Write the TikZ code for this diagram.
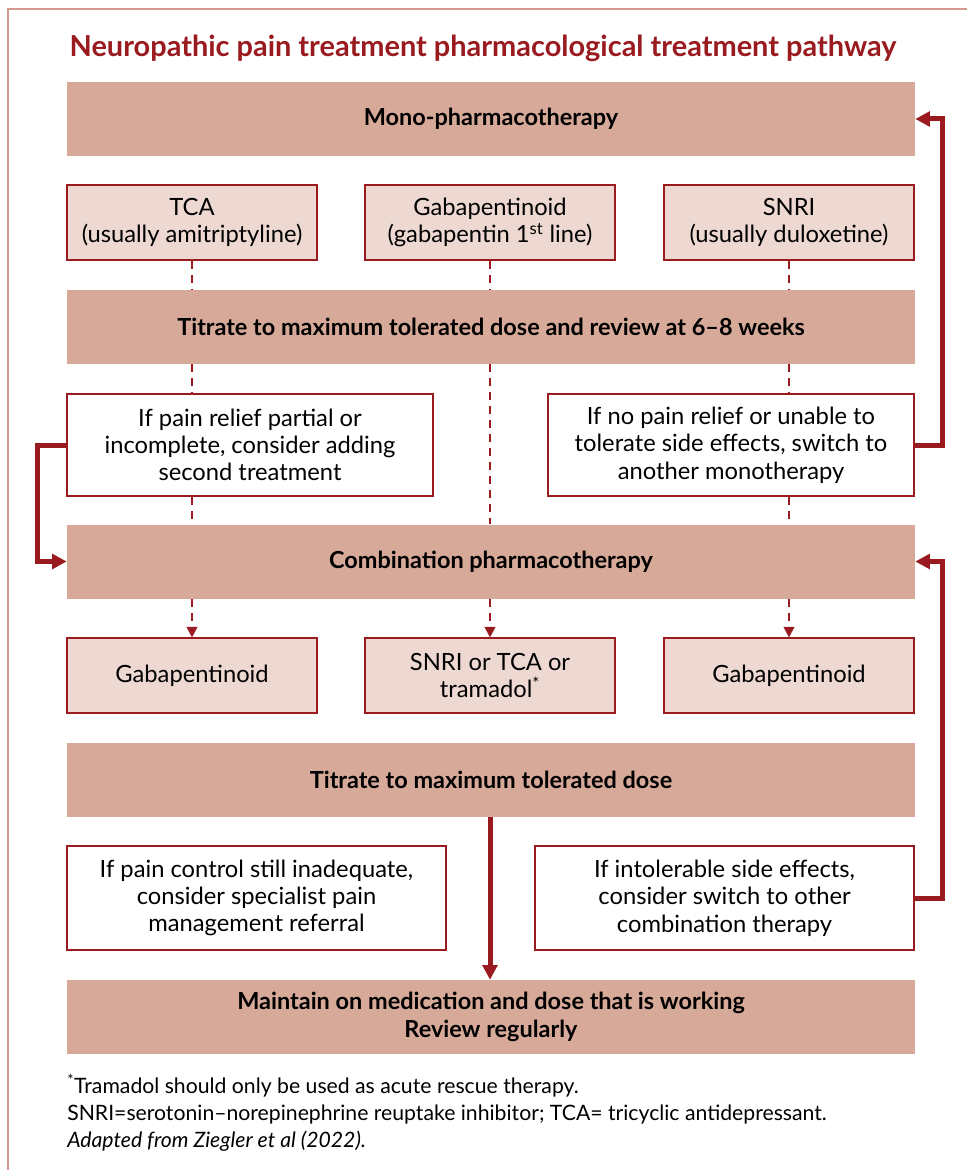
\documentclass[tikz,border=0pt]{standalone}
\usepackage{fontspec}
\setmainfont{Lato}
\usetikzlibrary{arrows.meta}
\definecolor{darkred}{HTML}{9A1B1F}
\definecolor{barfill}{HTML}{D7A999}
\definecolor{drugfill}{HTML}{EED9D2}
\definecolor{framecol}{HTML}{D49A8D}
\tikzset{
  bar/.style={fill=barfill,minimum width=636pt,minimum height=55.5pt,inner sep=0pt,
    align=center,font=\fontsize{17.6}{21.5}\selectfont\bfseries},
  drug/.style={fill=drugfill,draw=darkred,line width=0.8pt,minimum width=187.5pt,
    minimum height=56.25pt,inner sep=0pt,align=center,font=\fontsize{17.8}{20.5}\selectfont},
  note/.style={fill=white,draw=darkred,line width=0.8pt,inner sep=0pt,align=center,
    font=\fontsize{17.8}{20.5}\selectfont},
  dashline/.style={darkred,line width=1.5pt,dash pattern=on 6pt off 4.5pt},
  dasharrow/.style={dashline,-{Triangle[length=8pt,width=8pt]}},
  bigarrow/.style={darkred,line width=3.75pt,-{Triangle[length=11pt,width=11pt]}}
}
\begin{document}
\begin{tikzpicture}[x=0.75pt,y=-0.75pt]
\useasboundingbox (0,0) rectangle (967,1170);
\draw[framecol,line width=1.5pt] (8,1170) -- (8,9) -- (967,9);
\node[darkred,font=\fontsize{21.7}{25}\selectfont\bfseries] (title) at (483,48) {Neuropathic pain treatment pharmacological treatment pathway};
\node[bar] (mono) at (491,119) {Mono-pharmacotherapy};
\node[drug] (tca) at (192,222.5) {TCA\\(usually amitriptyline)};
\node[drug] (gaba) at (490,222.5) {Gabapentinoid\\(gabapentin 1\textsuperscript{st} line)};
\node[drug] (snri) at (789,222.5) {SNRI\\(usually duloxetine)};
\node[bar] (titrate) at (491,326.5) {Titrate to maximum tolerated dose and review at 6–8 weeks};
\node[note,minimum width=274.5pt,minimum height=76.5pt] (partial) at (250,445) {If pain relief partial or\\incomplete, consider adding\\second treatment};
\node[note,minimum width=274.5pt,minimum height=76.5pt] (noswitch) at (731,445) {If no pain relief or unable to\\tolerate side effects, switch to\\another monotherapy};
\node[bar] (combo) at (491,561.5) {Combination pharmacotherapy};
\node[drug] (gabaleft) at (192,675.5) {Gabapentinoid};
\node[drug] (snritca) at (490,675.5) {SNRI or TCA or\\tramadol\textsuperscript{*}};
\node[drug] (gabaright) at (789,675.5) {Gabapentinoid};
\node[bar] (titratemax) at (491,780) {Titrate to maximum tolerated dose};
\node[note,minimum width=284.25pt,minimum height=78pt] (specialist) at (256.5,898) {If pain control still inadequate,\\consider specialist pain\\management referral};
\node[note,minimum width=284.25pt,minimum height=78pt] (intolerable) at (724.5,898) {If intolerable side effects,\\consider switch to other\\combination therapy};
\node[bar] (maintain) at (491,1017) {Maintain on medication and dose that is working\\Review regularly};
\node[anchor=north west,align=left,inner sep=0pt,font=\fontsize{15.9}{20}\selectfont] (notes) at (67,1074) {\textsuperscript{*}Tramadol should only be used as acute rescue therapy.\\SNRI=serotonin–norepinephrine reuptake inhibitor; TCA= tricyclic antidepressant.\\\textit{Adapted from Ziegler et al (2022).}};
\draw[dashline] (tca) -- (tca |- titrate.north);
\draw[dashline] (gaba) -- (gaba |- titrate.north);
\draw[dashline] (snri) -- (snri |- titrate.north);
\draw[dashline] (tca |- titrate.south) -- (tca |- partial.north);
\draw[dashline] (gaba |- titrate.south) -- (gaba |- combo.north);
\draw[dashline] (snri |- titrate.south) -- (snri |- noswitch.north);
\draw[dashline] (tca |- partial.south) -- (tca |- combo.north);
\draw[dashline] (snri |- noswitch.south) -- (snri |- combo.north);
\draw[dasharrow] (gabaleft |- combo.south) -- (gabaleft);
\draw[dasharrow] (snritca |- combo.south) -- (snritca);
\draw[dasharrow] (gabaright |- combo.south) -- (gabaright);
\draw[bigarrow] (partial.west) -- ++(-29,0) |- (combo.west);
\draw[bigarrow] (noswitch.east) -- ++(28,0) |- (mono.east);
\draw[bigarrow] (intolerable.east) -- ++(28,0) |- (combo.east);
\draw[bigarrow] (titratemax.south -| snritca) -- (maintain.north -| snritca);
\end{tikzpicture}
\end{document}
